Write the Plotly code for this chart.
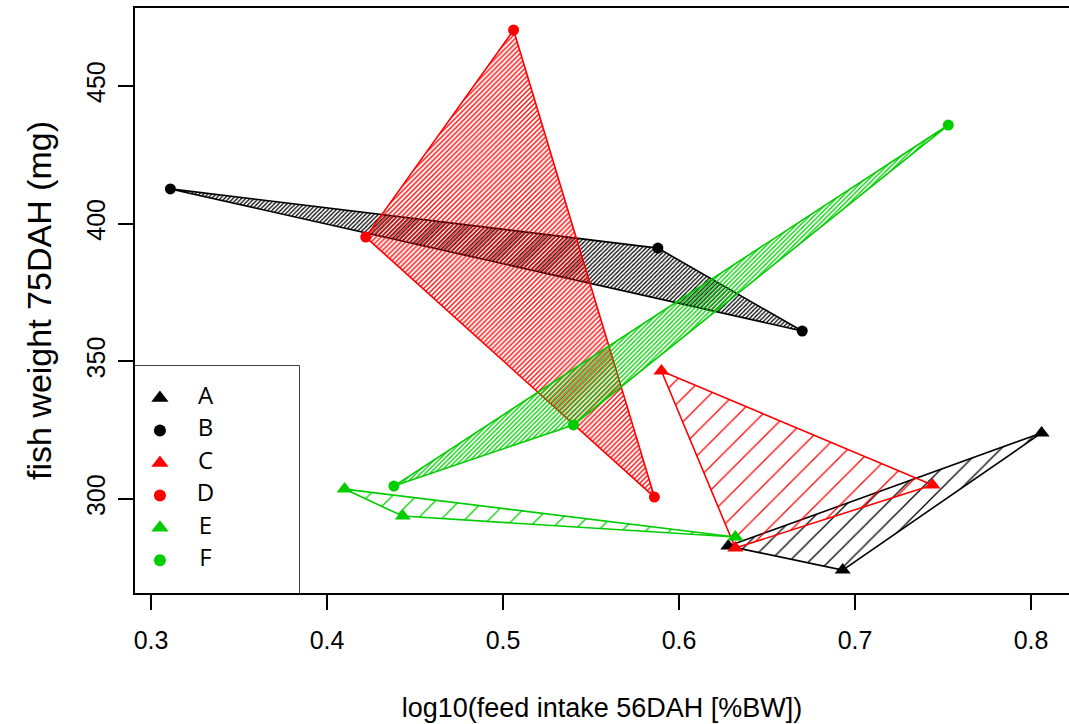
import plotly.graph_objects as go

# ---- data ----
groups = ["A", "B", "C", "D", "E", "F"]

A_x = [0.628, 0.693, 0.806]
A_y = [282.9, 274.2, 324.0]
B_x = [0.311, 0.588, 0.670]
B_y = [412.6, 391.1, 361.0]
C_x = [0.590, 0.744, 0.632]
C_y = [346.5, 305.1, 282.2]
D_x = [0.422, 0.506, 0.586]
D_y = [395.1, 470.3, 300.7]
E_x = [0.410, 0.443, 0.632]
E_y = [303.6, 293.8, 286.2]
F_x = [0.438, 0.540, 0.753]
F_y = [304.7, 326.9, 435.8]

xs = [A_x, B_x, C_x, D_x, E_x, F_x]
ys = [A_y, B_y, C_y, D_y, E_y, F_y]

x_ticks = [0.3, 0.4, 0.5, 0.6, 0.7, 0.8]
y_ticks = [300, 350, 400, 450]

# ---- styles ----
colors = ["#000000", "#000000", "#FF0000", "#FF0000", "#00CD00", "#00CD00"]
symbols = ["triangle-up", "circle", "triangle-up", "circle", "triangle-up", "circle"]
msizes = [14, 11, 14, 11, 14, 11]
hatch_size = [14, 3.0, 17, 3.5, 17, 3.2]
hatch_solid = [0.09, 0.42, 0.075, 0.38, 0.075, 0.4]

fig = go.Figure()

for g, x, y, c, s, ms, hs, hso in zip(groups, xs, ys, colors, symbols, msizes, hatch_size, hatch_solid):
    fig.add_trace(go.Scatter(
        x=x + [x[0]], y=y + [y[0]],
        mode="lines", fill="toself",
        fillcolor="rgba(0,0,0,0)",
        fillpattern=dict(shape="/", size=hs, solidity=hso, fgcolor=c,
                         bgcolor="rgba(0,0,0,0)", fillmode="replace"),
        line=dict(color=c, width=1.6),
        showlegend=False, hoverinfo="skip",
    ))

for g, x, y, c, s, ms in zip(groups, xs, ys, colors, symbols, msizes):
    fig.add_trace(go.Scatter(
        x=x, y=y, mode="markers",
        marker=dict(symbol=s, size=ms, color=c, opacity=1, line=dict(width=0)),
        showlegend=False, name=g,
    ))

# ---- manual legend (R-style box) drawn on an overlay axis ----
leg_y = [0.859, 0.716, 0.573, 0.430, 0.287, 0.144]
fig.add_trace(go.Scatter(
    x=[0.152] * len(groups), y=leg_y, mode="markers",
    marker=dict(symbol=symbols, size=[15, 12, 15, 12, 15, 12], color=colors,
                opacity=1, line=dict(width=0)),
    xaxis="x2", yaxis="y2", showlegend=False, hoverinfo="skip",
))
fig.add_trace(go.Scatter(
    x=[0.43] * len(groups), y=leg_y, mode="text", text=groups,
    textposition="middle center",
    textfont=dict(family="Open Sans", size=24, color="black"),
    xaxis="x2", yaxis="y2", showlegend=False, hoverinfo="skip",
))

leg_w = 164 / 934
leg_h = 227 / 585
fig.add_shape(type="rect", xref="paper", yref="paper", x0=0, x1=leg_w, y0=0, y1=leg_h,
              line=dict(color="black", width=1.5), fillcolor="white", layer="below")

tick_font = dict(family="Liberation Sans, Arial", size=25, color="black")
xtitle_font = dict(family="Liberation Sans, Arial", size=27, color="black")
ytitle_font = dict(family="Liberation Sans, Arial", size=34, color="black")

fig.update_layout(
    width=1069, height=724,
    margin=dict(l=135, r=0, t=8, b=131),
    paper_bgcolor="white", plot_bgcolor="white",
    xaxis=dict(
        range=[0.2909, 0.2909 + 934 / 1760],
        tickvals=x_ticks, ticktext=[str(v) for v in x_ticks],
        ticks="outside", ticklen=15, tickwidth=1.5, tickcolor="black",
        showline=True, linecolor="black", linewidth=1.5, mirror=True,
        showgrid=False, zeroline=False,
        tickfont=tick_font, ticklabelstandoff=9,
        title=dict(text="log10(feed intake 56DAH [%BW])", font=xtitle_font, standoff=45),
    ),
    yaxis=dict(
        range=[265.87, 478.29],
        tickvals=y_ticks, ticktext=[str(v) for v in y_ticks],
        ticks="outside", ticklen=15, tickwidth=1.5, tickcolor="black",
        tickangle=-90,
        showline=True, linecolor="black", linewidth=1.5, mirror=False,
        showgrid=False, zeroline=False,
        tickfont=tick_font, ticklabelstandoff=3,
        title=dict(text="fish weight 75DAH (mg)", font=ytitle_font, standoff=20),
    ),
    xaxis2=dict(domain=[0, leg_w], range=[0, 1], anchor="y2", visible=False, fixedrange=True),
    yaxis2=dict(domain=[0, leg_h], range=[0, 1], anchor="x2", visible=False, fixedrange=True),
)

fig.write_html("out.html", config={"displayModeBar": False},
               post_script="document.body.style.margin='0';document.body.style.overflow='hidden';")
